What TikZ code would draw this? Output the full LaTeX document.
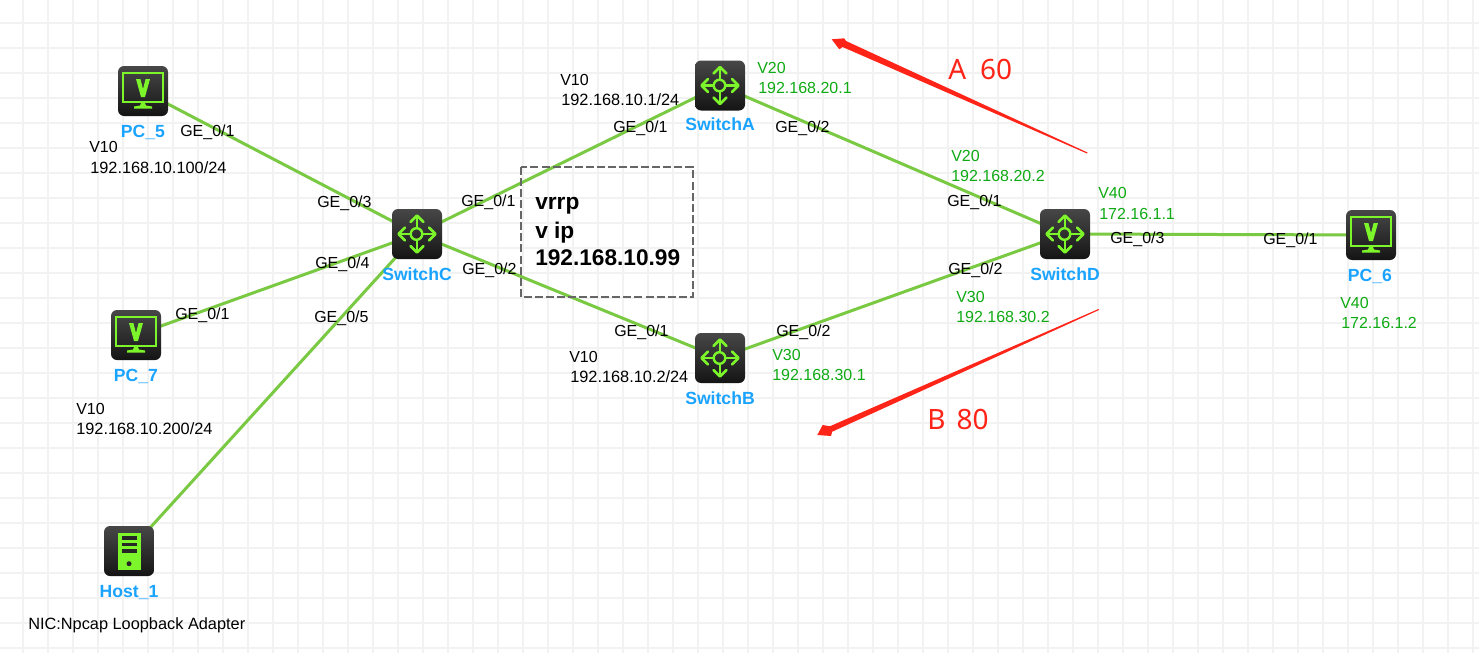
\documentclass[tikz,border=0pt]{standalone}
\usepackage{fontspec}
\setmainfont{Liberation Sans}
\newfontfamily\redfont{Noto Sans}
\definecolor{gridc}{HTML}{F2F2F2}
\definecolor{linkc}{HTML}{7AC943}
\definecolor{glyphc}{HTML}{7DF52B}
\definecolor{namec}{HTML}{1AA3FF}
\definecolor{vlanc}{HTML}{0FAA14}
\definecolor{redc}{HTML}{FF2418}
\definecolor{boxc}{HTML}{666666}
\tikzset{
  dev/.style={rectangle,minimum size=37.5pt,inner sep=0pt,rounded corners=4.5pt,top color=black!72,bottom color=black!92},
  link/.style={draw=linkc,line width=2.25pt},
  lbl/.style={anchor=mid west,inner sep=0pt,yshift=-2.25pt,font=\fontsize{12}{14}\selectfont,text=black},
  iplbl/.style={lbl,font=\fontsize{12.25}{14}\selectfont},
  vlbl/.style={lbl,text=vlanc},
  devname/.style={inner sep=0pt,font=\fontsize{13.2}{15}\selectfont\bfseries,text=namec},
  vip/.style={lbl,font=\fontsize{17}{20}\selectfont\bfseries},
  redlbl/.style={anchor=mid west,inner sep=0pt,yshift=-4.5pt,font=\fontsize{21}{24}\redfont\selectfont,text=redc},
}
\newcommand{\pcglyph}[1]{\begin{scope}[shift={(#1)}]
  \draw[glyphc,line width=1.5pt] (-20,-18) rectangle (20,11);
  \fill[glyphc] (-7,-12)--(-2.6,-12)--(0,-2)--(2.6,-12)--(7,-12)--(2,6)--(-2,6)--cycle;
  \fill[glyphc] (-1.5,11)--(1.5,11)--(3,14.5)--(9,15.5)--(9,17.5)--(-9,17.5)--(-9,15.5)--(-3,14.5)--cycle;
\end{scope}}
\newcommand{\swglyph}[1]{\begin{scope}[shift={(#1)},glyphc,line width=2pt]
  \draw[line width=1.8pt] (-0.5,0) circle (5.8);
  \foreach \a in {0,90,180,270}{
    \begin{scope}[rotate=\a]
      \draw (5.8,0)--(18,0);
      \draw[line join=round,line cap=round] (12,-6.5)--(18.5,0)--(12,6.5);
    \end{scope}}
\end{scope}}
\newcommand{\hostglyph}[1]{\begin{scope}[shift={(#1)}]
  \fill[glyphc] (-11.5,-18.5) rectangle (11.5,19);
  \fill[black!85] (-7.5,-15) rectangle (7.5,-11.5);
  \fill[black!85] (-7.5,-8.5) rectangle (7.5,-5);
  \fill[black!85] (-7.5,-2) rectangle (7.5,1.8);
  \fill[black!85] (0,12.7) circle (2.5);
\end{scope}}
\begin{document}
\begin{tikzpicture}[x=0.75pt,y=-0.75pt]
\useasboundingbox (0,0) rectangle (1479,653);
\fill[white] (0,0) rectangle (1479,653);
\foreach \gx in {-2,23,...,1478}{\draw[gridc,line width=2pt] (\gx,0)--(\gx,653);}
\foreach \gy in {-2,23,...,648}{\draw[gridc,line width=2pt] (0,\gy)--(1479,\gy);}

% device positions
\coordinate (cpc5) at (143,91);
\coordinate (cpc7) at (136,335);
\coordinate (chost) at (129,551);
\coordinate (csc) at (417,234);
\coordinate (csa) at (720,85.5);
\coordinate (csb) at (720,358);
\coordinate (csd) at (1065,234);
\coordinate (cpc6) at (1371,235);

% connectors
\draw[link] (cpc5)--(csc);
\draw[link] (cpc7)--(csc);
\draw[link] (chost)--(csc);
\draw[link] (csc)--(csa);
\draw[link] (csc)--(csb);
\draw[link] (csa)--(csd);
\draw[link] (csb)--(csd);
\draw[link] (csd)--(cpc6);

% devices
\node[dev] (pc5) at (cpc5) {}; \pcglyph{pc5}
\node[dev] (pc7) at (cpc7) {}; \pcglyph{pc7}
\node[dev] (pc6) at (cpc6) {}; \pcglyph{pc6}
\node[dev] (host) at (chost) {}; \hostglyph{host}
\node[dev] (sc) at (csc) {}; \swglyph{sc}
\node[dev] (sa) at (csa) {}; \swglyph{sa}
\node[dev] (sb) at (csb) {}; \swglyph{sb}
\node[dev] (sd) at (csd) {}; \swglyph{sd}

% device names
\node[devname] (npc5) at (143,132) {PC\_5};
\node[devname] (npc7) at (136,376.5) {PC\_7};
\node[devname] (npc6) at (1370,276.5) {PC\_6};
\node[devname] (nhost) at (129,592.5) {Host\_1};
\node[devname] (nsc) at (417,274.5) {SwitchC};
\node[devname] (nsa) at (720,124.5) {SwitchA};
\node[devname] (nsb) at (720,398) {SwitchB};
\node[devname] (nsd) at (1065,274) {SwitchD};

% black labels
\node[lbl] (l1) at (180,130) {GE\_0/1};
\node[lbl] (l2) at (89,146) {V10};
\node[iplbl] (l3) at (90,167) {192.168.10.100/24};
\node[lbl] (l4) at (317,201) {GE\_0/3};
\node[lbl] (l5) at (315,262) {GE\_0/4};
\node[lbl] (l6) at (314,316) {GE\_0/5};
\node[lbl] (l7) at (175,313) {GE\_0/1};
\node[lbl] (l8) at (76,408) {V10};
\node[iplbl] (l9) at (76,428) {192.168.10.200/24};
\node[iplbl] (l10) at (28,623) {NIC:Npcap Loopback Adapter};
\node[lbl] (l11) at (461,200) {GE\_0/1};
\node[lbl] (l12) at (462,268) {GE\_0/2};
\node[lbl] (l13) at (560,79) {V10};
\node[iplbl] (l14) at (561,99) {192.168.10.1/24};
\node[lbl] (l15) at (613,126) {GE\_0/1};
\node[lbl] (l16) at (775,126) {GE\_0/2};
\node[lbl] (l17) at (947,200) {GE\_0/1};
\node[lbl] (l18) at (948,268) {GE\_0/2};
\node[lbl] (l19) at (1110,237) {GE\_0/3};
\node[lbl] (l20) at (1263,238) {GE\_0/1};
\node[lbl] (l21) at (614,330) {GE\_0/1};
\node[lbl] (l22) at (776,330) {GE\_0/2};
\node[lbl] (l23) at (569,356) {V10};
\node[iplbl] (l24) at (570,376) {192.168.10.2/24};

% green labels
\node[vlbl] (v1) at (757,67) {V20};
\node[vlbl] (v2) at (758,87) {192.168.20.1};
\node[vlbl] (v3) at (951,155) {V20};
\node[vlbl] (v4) at (951,175) {192.168.20.2};
\node[vlbl] (v5) at (956,296) {V30};
\node[vlbl] (v6) at (956,316) {192.168.30.2};
\node[vlbl] (v7) at (1098,192) {V40};
\node[vlbl] (v8) at (1099,213) {172.16.1.1};
\node[vlbl] (v9) at (1340,302) {V40};
\node[vlbl] (v10) at (1341,322) {172.16.1.2};
\node[vlbl] (v11) at (772,354) {V30};
\node[vlbl] (v12) at (772,374) {192.168.30.1};

% dashed box
\draw[boxc,line width=1.5pt,dash pattern=on 6pt off 2.3pt] (521,167) rectangle (693,297);
\node[vip] (b1) at (535,202.5) {vrrp};
\node[vip] (b2) at (535,231.5) {v ip};
\node[vip] (b3) at (535,259) {192.168.10.99};

% red arrows
\fill[redc] (1087,153.5)--(1087.5,152.5)--(846,41)--(844.3,38.3)--(831.7,39.3)--(839.3,49.3)--(842.5,47)--cycle;
\fill[redc] (1099,310)--(1098.5,309)--(829.8,426.3)--(822.7,425)--(817.3,435)--(831,436)--(832.2,431.7)--cycle;
\node[redlbl] (ra) at (948,70) {A\hspace{0.5em}60};
\node[redlbl] (rb) at (927,420) {B\hspace{0.4em}80};
\end{tikzpicture}
\end{document}
